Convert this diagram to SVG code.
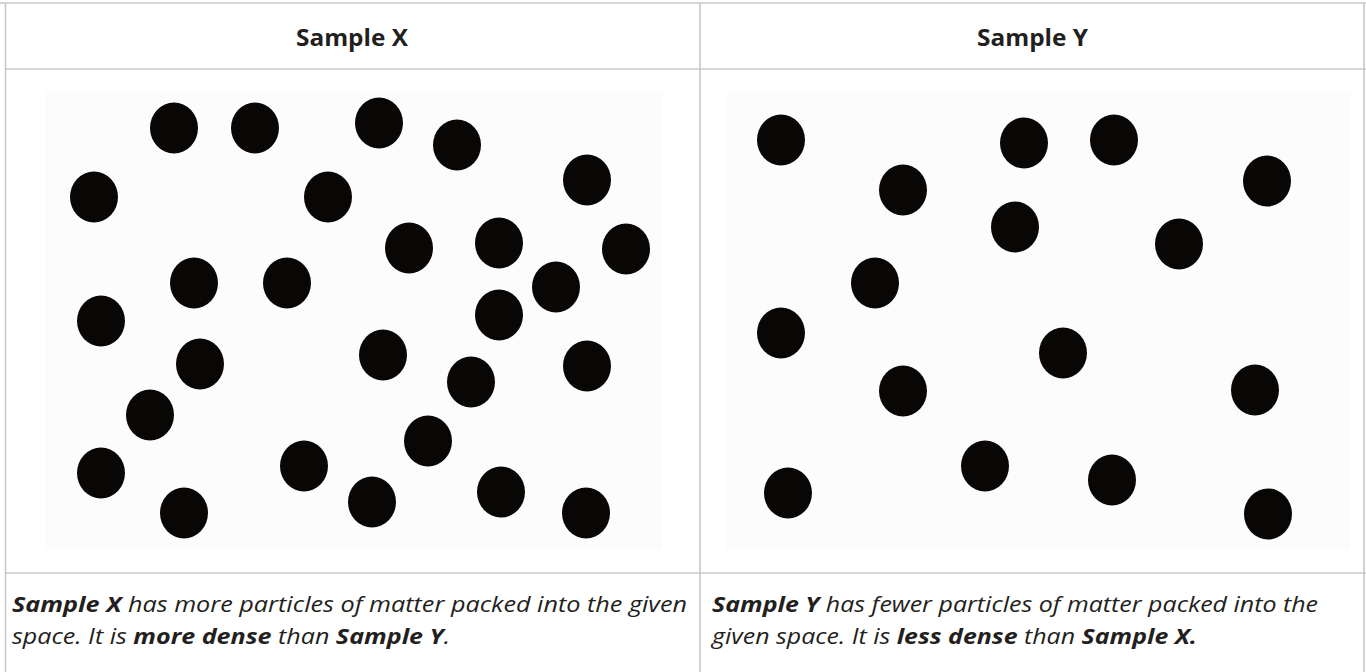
<svg xmlns="http://www.w3.org/2000/svg" width="1366" height="672" viewBox="0 0 1366 672">
  <style>
    .grid { stroke: #c9c9c9; stroke-width: 1.6; fill: none; }
    .head { font-family: "Open Sans", "Noto Sans", sans-serif; font-weight: 700; font-size: 23px; fill: #231f20; }
    .cap { font-family: "Open Sans", "Liberation Sans", sans-serif; font-style: italic; font-size: 22px; fill: #231f20; }
    .cap .b { font-weight: 700; }
    .p { fill: #090705; }
    .bg { fill: #fcfcfc; }
  </style>
  <defs>
    <ellipse id="dot" class="p" cx="0" cy="0" rx="24" ry="25.5"/>
  </defs>
  <rect width="1366" height="672" fill="#ffffff"/>

  <!-- table grid -->
  <g id="table">
    <line class="grid" x1="0" y1="3" x2="1366" y2="3"/>
    <line class="grid" x1="5.5" y1="3" x2="5.5" y2="672"/>
    <line class="grid" x1="700" y1="3" x2="700" y2="672"/>
    <line class="grid" x1="1364" y1="3" x2="1364" y2="672"/>
    <line class="grid" x1="5" y1="69" x2="1366" y2="69"/>
    <line class="grid" x1="5" y1="573" x2="1366" y2="573"/>
  </g>

  <!-- headers -->
  <g id="header-x"><text class="head" x="296" y="46" textLength="112" lengthAdjust="spacingAndGlyphs">Sample X</text></g>
  <g id="header-y"><text class="head" x="977" y="46" textLength="111" lengthAdjust="spacingAndGlyphs">Sample Y</text></g>

  <!-- sample X: tightly packed particles -->
  <g id="sample-x">
    <rect class="bg" x="45" y="92" width="617" height="458"/>
    <use href="#dot" x="174" y="128"/>
    <use href="#dot" x="255" y="128"/>
    <use href="#dot" x="379" y="123"/>
    <use href="#dot" x="457" y="145"/>
    <use href="#dot" x="94" y="197"/>
    <use href="#dot" x="328" y="197"/>
    <use href="#dot" x="587" y="180"/>
    <use href="#dot" x="409" y="248"/>
    <use href="#dot" x="499" y="243"/>
    <use href="#dot" x="626" y="249"/>
    <use href="#dot" x="194" y="283"/>
    <use href="#dot" x="287" y="283"/>
    <use href="#dot" x="556" y="287"/>
    <use href="#dot" x="101" y="321"/>
    <use href="#dot" x="499" y="315"/>
    <use href="#dot" x="200" y="364"/>
    <use href="#dot" x="383" y="355"/>
    <use href="#dot" x="471" y="382"/>
    <use href="#dot" x="587" y="366"/>
    <use href="#dot" x="150" y="415"/>
    <use href="#dot" x="428" y="441"/>
    <use href="#dot" x="101" y="473"/>
    <use href="#dot" x="304" y="466"/>
    <use href="#dot" x="184" y="513"/>
    <use href="#dot" x="372" y="502"/>
    <use href="#dot" x="501" y="492"/>
    <use href="#dot" x="586" y="513"/>
  </g>

  <!-- sample Y: sparse particles -->
  <g id="sample-y">
    <rect class="bg" x="726" y="92" width="624" height="458"/>
    <use href="#dot" x="781" y="140"/>
    <use href="#dot" x="903" y="190"/>
    <use href="#dot" x="1024" y="143"/>
    <use href="#dot" x="1114" y="140"/>
    <use href="#dot" x="1267" y="181"/>
    <use href="#dot" x="1015" y="227"/>
    <use href="#dot" x="1179" y="244"/>
    <use href="#dot" x="875" y="283"/>
    <use href="#dot" x="781" y="333"/>
    <use href="#dot" x="1063" y="353"/>
    <use href="#dot" x="903" y="391"/>
    <use href="#dot" x="1255" y="390"/>
    <use href="#dot" x="985" y="466"/>
    <use href="#dot" x="1112" y="480"/>
    <use href="#dot" x="788" y="493"/>
    <use href="#dot" x="1268" y="514"/>
  </g>

  <!-- captions -->
  <g id="caption-x">
    <text class="cap" x="12" y="612" textLength="675" lengthAdjust="spacingAndGlyphs"><tspan class="b">Sample X</tspan> has more particles of matter packed into the given</text>
    <text class="cap" x="12" y="644" textLength="438" lengthAdjust="spacingAndGlyphs">space. It is <tspan class="b">more dense</tspan> than <tspan class="b">Sample Y</tspan>.</text>
  </g>
  <g id="caption-y">
    <text class="cap" x="712" y="612" textLength="606" lengthAdjust="spacingAndGlyphs"><tspan class="b">Sample Y</tspan> has fewer particles of matter packed into the</text>
    <text class="cap" x="712" y="644" textLength="485" lengthAdjust="spacingAndGlyphs">given space. It is <tspan class="b">less dense</tspan> than <tspan class="b">Sample X.</tspan></text>
  </g>
</svg>
